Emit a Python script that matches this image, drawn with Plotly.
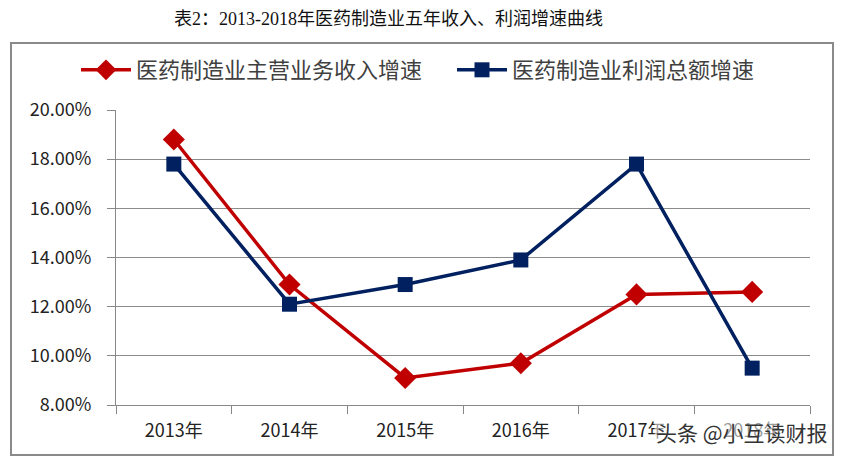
import plotly.graph_objects as go

years = ["2013年", "2014年", "2015年", "2016年", "2017年", "2018年"]
revenue_growth = [0.188, 0.129, 0.091, 0.097, 0.125, 0.126]
profit_growth = [0.178, 0.121, 0.129, 0.139, 0.178, 0.095]
series_names = ["医药制造业主营业务收入增速", "医药制造业利润总额增速"]
title_text = "表2：2013-2018年医药制造业五年收入、利润增速曲线"
watermark = "头条 @小互读财报"

RED = "#C00000"
NAVY = "#002060"
CJK = "Noto Sans CJK SC, Noto Sans, sans-serif"

fig = go.Figure()
fig.add_trace(go.Scatter(
    x=years, y=revenue_growth, name=series_names[0], mode="lines+markers",
    line=dict(color=RED, width=3.5),
    marker=dict(symbol="diamond", size=17, color=RED),
    legend="legend",
))
fig.add_trace(go.Scatter(
    x=years, y=profit_growth, name=series_names[1], mode="lines+markers",
    line=dict(color=NAVY, width=3.5),
    marker=dict(symbol="square", size=15, color=NAVY),
    legend="legend2",
))

W, H = 846, 458
L, R, T, B = 116, 36, 110, 53
PW, PH = W - L - R, H - T - B

def px(x):
    return (x - L) / PW

def py(y):
    return (H - B - y) / PH

legend_common = dict(
    orientation="h", xref="container", yref="container",
    xanchor="left", yanchor="middle",
    font=dict(size=22, color="#404040", family=CJK), itemwidth=50,
    bgcolor="rgba(0,0,0,0)",
)

fig.update_layout(
    width=W, height=H,
    margin=dict(l=L, r=R, t=T, b=B, autoexpand=False),
    paper_bgcolor="white", plot_bgcolor="white",
    font=dict(family=CJK, color="#222222", size=16),
    showlegend=True,
    legend=dict(legend_common, x=76 / W, y=1 - 70 / H),
    legend2=dict(legend_common, x=452 / W, y=1 - 70 / H),
    xaxis=dict(
        type="category", showgrid=False, showline=True, linecolor="#888888",
        linewidth=1, ticks="outside", tickson="boundaries", ticklen=8,
        tickcolor="#888888", tickfont=dict(size=18, color="#222222"),
        ticklabelstandoff=9, range=[-0.5, 5.5],
    ),
    yaxis=dict(
        range=[0.08, 0.20], dtick=0.02, tick0=0.08, tickformat=".2%",
        showgrid=True, gridcolor="#8c8c8c", gridwidth=1,
        showline=True, linecolor="#888888", linewidth=1,
        ticks="outside", ticklen=8, tickcolor="#888888",
        tickfont=dict(size=18, color="#222222"), zeroline=False,
        ticklabelstandoff=12,
    ),
    shapes=[dict(
        type="rect", xref="paper", yref="paper",
        x0=px(11), x1=px(833), y0=py(455), y1=py(43),
        line=dict(color="#8a8a8a", width=2), layer="below",
    )],
    annotations=[
        dict(text=title_text, xref="paper", yref="paper",
             x=px(388), y=py(19),
             showarrow=False, xanchor="center", yanchor="middle",
             font=dict(family="Liberation Serif, Noto Sans CJK SC, serif",
                       size=18, color="#111111")),
        dict(text=watermark, xref="paper", yref="paper",
             x=px(830), y=py(432),
             showarrow=False, xanchor="right", yanchor="middle",
             bgcolor="rgba(255,255,255,0.55)",
             font=dict(family=CJK, size=21, color="#333333")),
    ],
)

fig.write_html("out.html", config={"displayModeBar": False},
               post_script="document.body.style.margin='0';")
